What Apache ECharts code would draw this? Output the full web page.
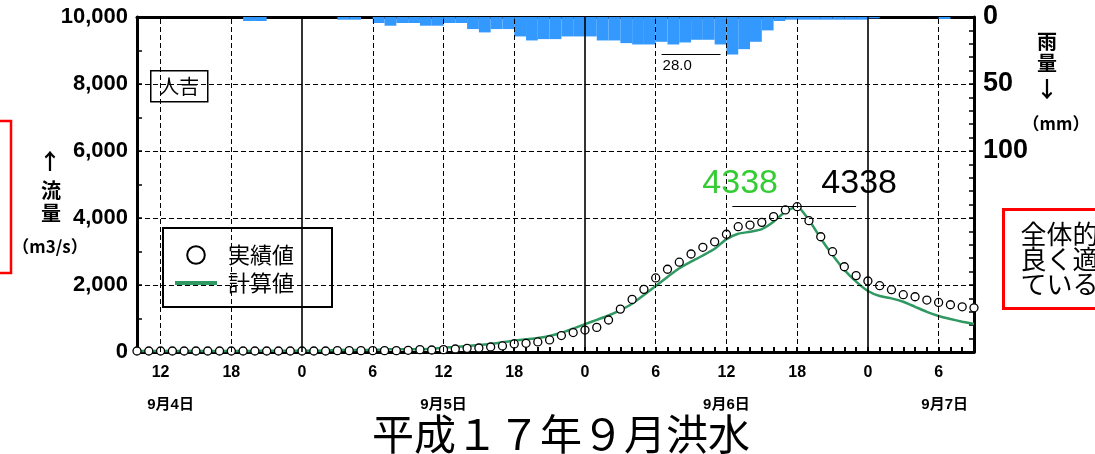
<!DOCTYPE html>
<html>
<head>
<meta charset="utf-8">
<script src="https://cdn.jsdelivr.net/npm/echarts@6/dist/echarts.min.js"></script>
<style>
  html, body { margin: 0; padding: 0; background: #fff; }
  #chart { width: 1095px; height: 454px; }
</style>
</head>
<body>
<div id="chart"></div>
<script>
// Hourly samples, first sample at 9/4 10:00, last at 9/7 09:00 (72 samples)
const observed = [
  30, 30, 30, 30, 30, 30, 30, 30, 30, 30,
  30, 30, 30, 30, 30, 30, 30, 40, 40, 40,
  40, 40, 40, 50, 70, 60, 70, 90, 110, 120,
  150, 180, 240, 260, 300, 360, 490, 580, 655, 735,
  955, 1280, 1570, 1870, 2210, 2470, 2680, 2925, 3125, 3290,
  3515, 3740, 3790, 3870, 4040, 4240, 4338, 3920, 3440, 2995,
  2545, 2280, 2120, 1980, 1860, 1710, 1650, 1550, 1480, 1410,
  1350, 1320
];
const computed = [
  30, 30, 30, 30, 30, 30, 30, 30, 30, 30,
  30, 40, 40, 40, 40, 40, 40, 60, 60, 60,
  60, 80, 80, 80, 80, 100, 130, 150, 180, 210,
  240, 290, 340, 380, 420, 480, 575, 700, 830, 960,
  1090, 1250, 1440, 1700, 1970, 2240, 2500, 2700, 2880, 3080,
  3370, 3530, 3590, 3670, 3890, 4190, 4338, 3940, 3390, 2895,
  2450, 2100, 1820, 1670, 1600, 1500, 1350, 1200, 1075, 985,
  905, 835
];
// Hourly rainfall (mm), one value per hour interval (71 intervals)
const rain = [
  0, 0, 0, 0, 0, 0, 0, 0, 0, 3,
  3, 0, 0, 0, 0, 0, 0, 2, 2, 0,
  4.5, 6.5, 4.5, 4.5, 6.5, 6.5, 4.5, 4.5, 9, 11.5,
  9, 9, 14.5, 17.5, 16.5, 16.5, 14.5, 14.5, 14.5, 17.5,
  17.5, 19.5, 20.5, 20.5, 18.5, 20.5, 19, 17, 17, 20.5,
  28, 24, 18.5, 10, 3, 2, 2, 2, 2, 2,
  2, 2, 1, 0, 0, 0, 0, 0, 1.5, 0,
  0
];
// Clock-hour tick labels and their sample index
const tickHours = [2, 8, 14, 20, 26, 32, 38, 44, 50, 56, 62, 68];
const tickLabels = ['12', '18', '0', '6', '12', '18', '0', '6', '12', '18', '0', '6'];
// Date labels and the sample index they sit under
const dateHours = [2, 26, 50, 68];
const dateLabels = ['9月4日', '9月5日', '9月6日', '9月7日'];
// Horizontal reference levels for flow (m3/s)
const flowLevels = [2000, 4000, 6000, 8000];

const obsPairs = observed.map((v, i) => [i, v]);
const calcPairs = computed.map((v, i) => [i, v]);
const rainSlots = rain.map((_, i) => String(i));

const peakObs = Math.max(...observed);
const peakIdx = observed.indexOf(peakObs);
const rainPeak = Math.max(...rain);
const rainPeakIdx = rain.indexOf(rainPeak);

const NUM_FONT = 'Liberation Sans, Arial, sans-serif';
const JP_FONT = 'Noto Sans CJK JP, sans-serif';

// vertical reference lines: dashed every 6 h, solid at midnight
const gridMarks = tickHours.map((h, i) => ({
  xAxis: h,
  lineStyle: tickLabels[i] === '0'
    ? { type: 'solid', width: 1.6, color: '#000' }
    : { type: [5, 3], width: 1, color: '#000' }
})).concat(flowLevels.map(v => ({
  yAxis: v,
  lineStyle: { type: [5, 3], width: 1, color: '#000' }
})));

const dateRich = {};
dateLabels.forEach((d, i) => {
  const shift = [20, 0, 0, 12][i];
  dateRich['d' + i] = {
    fontSize: 15, fontWeight: 'bold', color: '#000',
    fontFamily: NUM_FONT + ', ' + JP_FONT,
    lineHeight: 42, padding: [0, 0, 0, shift]
  };
});

const chart = echarts.init(document.getElementById('chart'), null, { renderer: 'canvas' });

chart.setOption({
  animation: false,
  backgroundColor: '#fff',
  title: {
    text: '平成１７年９月洪水',
    left: 556,
    textAlign: 'center',
    top: 408,
    textStyle: { fontSize: 42, fontWeight: 'normal', color: '#000', fontFamily: JP_FONT }
  },
  grid: { left: 137, right: 121, top: 17, bottom: 102 },
  legend: {
    orient: 'vertical',
    left: 163,
    top: 228,
    padding: [16, 38, 13, 10],
    itemGap: 6,
    itemWidth: 42,
    itemHeight: 22,
    borderColor: '#000',
    borderWidth: 2,
    backgroundColor: '#fff',
    selectedMode: false,
    textStyle: { fontSize: 22, color: '#000', fontFamily: JP_FONT, padding: [0, 0, 0, 6] },
    data: [
      { name: '実績値', itemStyle: { color: '#fff', borderColor: '#000', borderWidth: 2 }, lineStyle: { width: 0, opacity: 0 } },
      { name: '計算値', itemStyle: { opacity: 0 }, lineStyle: { width: 4, color: '#2e9960' } }
    ]
  },
  xAxis: [
    {
      type: 'value', min: 0, max: 71, interval: 1, position: 'bottom',
      axisLine: { lineStyle: { color: '#000', width: 3 } },
      axisTick: { inside: true, length: 5, lineStyle: { color: '#000', width: 2 } },
      splitLine: { show: false },
      axisLabel: {
        margin: 10,
        formatter: v => {
          const i = tickHours.indexOf(v);
          if (i < 0) return '';
          let s = '{t|' + tickLabels[i] + '}';
          const d = dateHours.indexOf(v);
          if (d >= 0) s += '\n{d' + d + '|' + dateLabels[d] + '}';
          return s;
        },
        rich: Object.assign({
          t: { fontSize: 16, fontWeight: 'bold', color: '#000', fontFamily: NUM_FONT, lineHeight: 22 }
        }, dateRich)
      }
    },
    {
      type: 'category', data: rainSlots, position: 'top', boundaryGap: true,
      axisLine: { lineStyle: { color: '#000', width: 3 } },
      axisTick: { inside: true, length: 6, interval: 0, lineStyle: { color: '#000', width: 2 } },
      axisLabel: { show: false },
      splitLine: { show: false }
    }
  ],
  yAxis: [
    {
      type: 'value', min: 0, max: 10000, interval: 1000, position: 'left',
      axisLine: { show: true, lineStyle: { color: '#000', width: 3 } },
      axisTick: { show: true, inside: true, length: 5, lineStyle: { color: '#000', width: 1.5 } },
      splitLine: { show: false },
      axisLabel: {
        margin: 9, color: '#000', fontSize: 22, fontWeight: 'bold', fontFamily: NUM_FONT,
        formatter: v => (v % 2000 === 0 ? v.toLocaleString('en-US') : '')
      }
    },
    {
      type: 'value', min: 0, max: 250, interval: 10, inverse: true, position: 'right',
      axisLine: { show: true, lineStyle: { color: '#000', width: 3 } },
      axisTick: { show: true, inside: true, length: 5, lineStyle: { color: '#000', width: 1.5 } },
      splitLine: { show: false },
      axisLabel: {
        margin: 9, color: '#000', fontSize: 27, fontWeight: 'bold', fontFamily: NUM_FONT,
        formatter: v => (v % 50 === 0 && v <= 100 ? String(v) : '')
      }
    }
  ],
  series: [
    {
      name: 'grid', type: 'line', xAxisIndex: 0, yAxisIndex: 0, data: [], z: 1, silent: true,
      markLine: { symbol: 'none', silent: true, animation: false, label: { show: false }, data: gridMarks }
    },
    {
      name: '雨量', type: 'bar', xAxisIndex: 1, yAxisIndex: 1, data: rain,
      barWidth: '100%', barCategoryGap: '0%', z: 2,
      itemStyle: { color: '#3399ff' },
      markLine: {
        symbol: 'none', silent: true, animation: false,
        lineStyle: { color: '#000', width: 1, type: 'solid' },
        label: {
          show: true, position: 'insideStartBottom', distance: [1, 4],
          formatter: p => Number(p.value).toFixed(1),
          fontSize: 15, color: '#000', fontFamily: NUM_FONT
        },
        data: [[
          { coord: [rainPeakIdx - 6, rainPeak], value: rainPeak },
          { coord: [rainPeakIdx - 1, rainPeak] }
        ]]
      }
    },
    {
      name: '計算値', type: 'line', xAxisIndex: 0, yAxisIndex: 0, data: calcPairs,
      symbol: 'none', smooth: 0.2, z: 3,
      lineStyle: { color: '#2e9960', width: 2.5 },
      itemStyle: { color: '#2e9960' },
      markPoint: {
        symbol: 'circle', symbolSize: 1, silent: true, animation: false,
        itemStyle: { color: 'rgba(0,0,0,0)' },
        label: { show: true, formatter: '{c}', color: '#33cc33', fontSize: 34, fontFamily: NUM_FONT, offset: [-57, -23] },
        data: [{ type: 'max', valueIndex: 1 }]
      }
    },
    {
      name: '実績値', type: 'line', xAxisIndex: 0, yAxisIndex: 0, data: obsPairs,
      symbol: 'circle', symbolSize: 8, showSymbol: true, showAllSymbol: true, z: 4,
      lineStyle: { width: 0, opacity: 0 },
      itemStyle: { color: '#fff', borderColor: '#000', borderWidth: 1.3 },
      markPoint: {
        symbol: 'circle', symbolSize: 1, silent: true, animation: false,
        itemStyle: { color: 'rgba(0,0,0,0)' },
        label: { show: true, formatter: '{c}', color: '#000', fontSize: 34, fontFamily: NUM_FONT, offset: [62, -23] },
        data: [{ type: 'max', valueIndex: 1 }]
      },
      markLine: {
        symbol: 'none', silent: true, animation: false,
        lineStyle: { color: '#000', width: 1, type: 'solid' },
        label: { show: false },
        data: [[
          { coord: [peakIdx - 5.5, peakObs] },
          { coord: [peakIdx + 5, peakObs] }
        ]]
      }
    }
  ],
  graphic: [
    // station name box
    {
      type: 'group', left: 150, top: 70, z: 10,
      children: [
        { type: 'rect', shape: { x: 0, y: 0, width: 57, height: 31 }, style: { fill: '#fff', stroke: '#000', lineWidth: 1.5 } },
        { type: 'text', x: 28.5, y: 15.5, style: { text: '人吉', font: '20px "Noto Sans CJK JP"', fill: '#000', align: 'center', verticalAlign: 'middle' } }
      ]
    },
    // flow axis caption
    { type: 'text', x: 50, y: 161, style: { text: '↑', font: 'bold 22px "Noto Sans CJK JP"', fill: '#000', align: 'center', verticalAlign: 'middle' } },
    { type: 'text', x: 51, y: 190, style: { text: '流', font: 'bold 20px "Noto Sans CJK JP"', fill: '#000', align: 'center', verticalAlign: 'middle' } },
    { type: 'text', x: 51, y: 213, style: { text: '量', font: 'bold 20px "Noto Sans CJK JP"', fill: '#000', align: 'center', verticalAlign: 'middle' } },
    { type: 'text', x: 50, y: 247, style: { text: '（m3/s）', font: 'bold 17px "Noto Sans CJK JP"', fill: '#000', align: 'center', verticalAlign: 'middle' } },
    // rainfall axis caption
    { type: 'text', x: 1047, y: 41, style: { text: '雨', font: 'bold 20px "Noto Sans CJK JP"', fill: '#000', align: 'center', verticalAlign: 'middle' } },
    { type: 'text', x: 1047, y: 63, style: { text: '量', font: 'bold 20px "Noto Sans CJK JP"', fill: '#000', align: 'center', verticalAlign: 'middle' } },
    { type: 'text', x: 1047, y: 89, style: { text: '↓', font: 'bold 22px "Noto Sans CJK JP"', fill: '#000', align: 'center', verticalAlign: 'middle' } },
    { type: 'text', x: 1056, y: 124, style: { text: '（mm）', font: 'bold 17px "Noto Sans CJK JP"', fill: '#000', align: 'center', verticalAlign: 'middle' } },
    // side callout frames
    { type: 'rect', shape: { x: -10, y: 121, width: 21, height: 152 }, style: { fill: 'none', stroke: '#ff0000', lineWidth: 2.5 } },
    {
      type: 'group', left: 1002, top: 208, z: 10,
      children: [
        { type: 'rect', shape: { x: 0, y: 0, width: 120, height: 99 }, style: { fill: '#fff', stroke: '#ff0000', lineWidth: 3 } },
        { type: 'text', x: 17, y: 12, style: { text: '全体的に\n良く適合し\nている', font: '26px "Noto Sans CJK JP"', lineHeight: 25, fill: '#000', align: 'left', verticalAlign: 'top' } }
      ]
    }
  ]
});
</script>
</body>
</html>
